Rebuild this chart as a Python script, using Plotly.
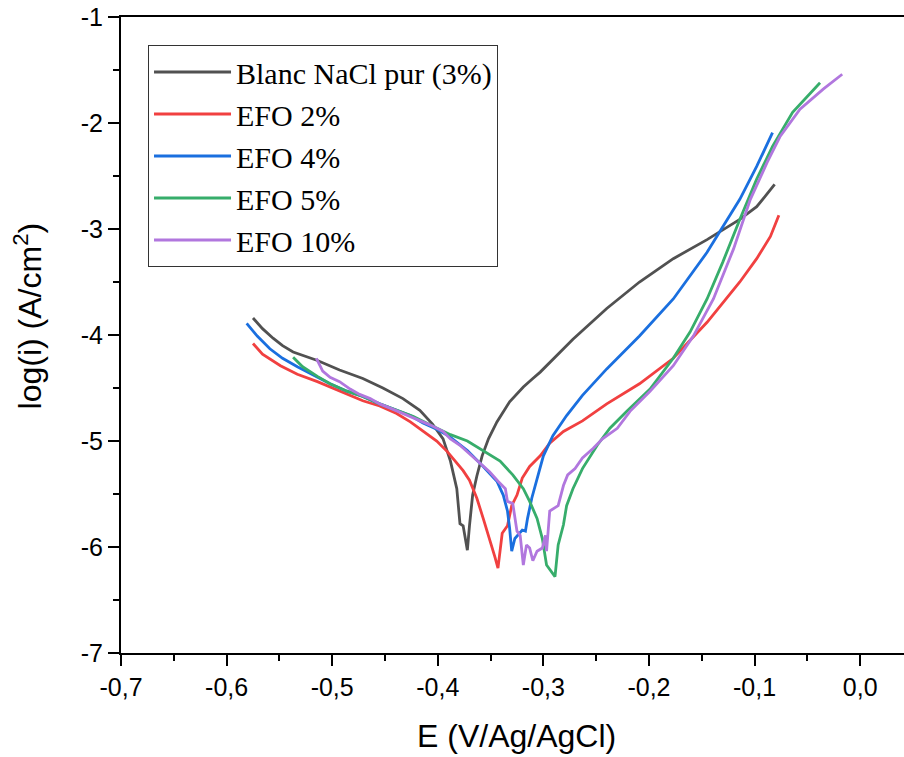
import plotly.graph_objects as go

# ---- data (E in V vs Ag/AgCl, log(i) in A/cm2) ----
E_blanc = [-0.575, -0.566, -0.556, -0.547, -0.537, -0.514, -0.493, -0.471, -0.452, -0.433, -0.417, -0.405,
           -0.395, -0.388, -0.382, -0.379, -0.376, -0.372, -0.370, -0.367, -0.363, -0.358, -0.352, -0.344,
           -0.332, -0.319, -0.310, -0.303, -0.272, -0.240, -0.209, -0.177, -0.145, -0.114, -0.098, -0.081]
logi_blanc = [-3.84, -3.94, -4.03, -4.10, -4.16, -4.24, -4.33, -4.41, -4.50, -4.60, -4.71, -4.84,
              -4.98, -5.19, -5.45, -5.78, -5.80, -6.03, -5.80, -5.51, -5.33, -5.14, -4.98, -4.82,
              -4.63, -4.49, -4.41, -4.35, -4.04, -3.75, -3.50, -3.28, -3.10, -2.91, -2.79, -2.58]

E_efo2 = [-0.575, -0.566, -0.549, -0.533, -0.514, -0.493, -0.471, -0.455, -0.439, -0.426, -0.414, -0.401,
          -0.391, -0.386, -0.376, -0.370, -0.363, -0.357, -0.351, -0.346, -0.343, -0.339, -0.334, -0.330,
          -0.325, -0.320, -0.313, -0.303, -0.294, -0.281, -0.263, -0.240, -0.209, -0.177, -0.145, -0.114,
          -0.098, -0.085, -0.077]
logi_efo2 = [-4.08, -4.18, -4.29, -4.37, -4.44, -4.53, -4.62, -4.67, -4.74, -4.82, -4.91, -5.00,
             -5.10, -5.16, -5.28, -5.37, -5.54, -5.73, -5.92, -6.09, -6.20, -5.87, -5.80, -5.61,
             -5.51, -5.35, -5.24, -5.14, -5.02, -4.91, -4.81, -4.65, -4.46, -4.22, -3.88, -3.50,
             -3.28, -3.07, -2.87]

E_efo4 = [-0.581, -0.571, -0.559, -0.547, -0.533, -0.518, -0.502, -0.486, -0.471, -0.455, -0.439, -0.426,
          -0.414, -0.401, -0.390, -0.372, -0.357, -0.344, -0.338, -0.334, -0.332, -0.330, -0.327, -0.324,
          -0.320, -0.317, -0.315, -0.311, -0.306, -0.300, -0.291, -0.278, -0.263, -0.240, -0.209, -0.177,
          -0.145, -0.126, -0.114, -0.098, -0.083]
logi_efo4 = [-3.89, -4.01, -4.13, -4.22, -4.30, -4.38, -4.46, -4.53, -4.58, -4.65, -4.71, -4.76,
             -4.83, -4.89, -4.95, -5.09, -5.24, -5.38, -5.51, -5.66, -5.82, -6.04, -5.92, -5.89,
             -5.84, -5.85, -5.73, -5.54, -5.35, -5.14, -4.95, -4.76, -4.57, -4.32, -4.01, -3.66,
             -3.22, -2.91, -2.72, -2.41, -2.09]

E_efo5 = [-0.537, -0.528, -0.514, -0.502, -0.486, -0.471, -0.455, -0.439, -0.423, -0.407, -0.388, -0.372,
          -0.357, -0.341, -0.329, -0.319, -0.313, -0.306, -0.301, -0.297, -0.289, -0.286, -0.281, -0.278,
          -0.272, -0.263, -0.249, -0.237, -0.221, -0.199, -0.177, -0.161, -0.145, -0.130, -0.114, -0.098,
          -0.083, -0.064, -0.038]
logi_efo5 = [-4.21, -4.30, -4.39, -4.46, -4.53, -4.58, -4.65, -4.71, -4.77, -4.85, -4.94, -5.00,
             -5.09, -5.19, -5.32, -5.45, -5.57, -5.73, -5.92, -6.17, -6.28, -5.98, -5.79, -5.61,
             -5.45, -5.26, -5.04, -4.88, -4.72, -4.51, -4.22, -3.97, -3.66, -3.31, -2.91, -2.53,
             -2.22, -1.90, -1.62]

E_efo10 = [-0.515, -0.509, -0.502, -0.493, -0.483, -0.474, -0.464, -0.455, -0.445, -0.433, -0.420, -0.407,
           -0.395, -0.388, -0.379, -0.370, -0.360, -0.351, -0.343, -0.336, -0.334, -0.329, -0.325, -0.322,
           -0.319, -0.316, -0.313, -0.310, -0.306, -0.301, -0.298, -0.297, -0.294, -0.289, -0.286, -0.281,
           -0.277, -0.270, -0.263, -0.253, -0.244, -0.230, -0.218, -0.199, -0.177, -0.158, -0.139, -0.120,
           -0.104, -0.088, -0.076, -0.057, -0.035, -0.017]
logi_efo10 = [-4.22, -4.34, -4.40, -4.44, -4.51, -4.56, -4.60, -4.65, -4.69, -4.74, -4.79, -4.85,
              -4.91, -4.98, -5.04, -5.12, -5.21, -5.29, -5.38, -5.45, -5.57, -5.59, -5.85, -5.89,
              -6.17, -5.98, -6.01, -6.13, -6.04, -6.01, -5.89, -6.04, -5.66, -5.63, -5.61, -5.42,
              -5.32, -5.26, -5.16, -5.07, -4.98, -4.88, -4.72, -4.53, -4.29, -4.01, -3.66, -3.19,
              -2.72, -2.37, -2.13, -1.87, -1.68, -1.54]

series_names = ["Blanc NaCl pur (3%)", "EFO 2%", "EFO 4%", "EFO 5%", "EFO 10%"]
series_E = [E_blanc, E_efo2, E_efo4, E_efo5, E_efo10]
series_logi = [logi_blanc, logi_efo2, logi_efo4, logi_efo5, logi_efo10]
series_colors = ["#515151", "#F14040", "#1A6FDF", "#37AD6B", "#B177DE"]

x_tickvals = [-0.7, -0.6, -0.5, -0.4, -0.3, -0.2, -0.1, 0.0]
x_ticktext = ["-0,7", "-0,6", "-0,5", "-0,4", "-0,3", "-0,2", "-0,1", "0,0"]
y_tickvals = [-7, -6, -5, -4, -3, -2, -1]
y_ticktext = ["-7", "-6", "-5", "-4", "-3", "-2", "-1"]

fig = go.Figure()
for name, xs, ys, col in zip(series_names, series_E, series_logi, series_colors):
    fig.add_trace(go.Scatter(x=xs, y=ys, mode="lines", name=name,
                             line=dict(color=col, width=2.8)))

axis_font = dict(family="Liberation Sans, Arial, sans-serif", size=25, color="black")

fig.update_layout(
    width=904, height=757, autosize=False,
    margin=dict(l=121, r=0, t=17, b=104, pad=0),
    paper_bgcolor="white", plot_bgcolor="white",
    showlegend=True,
    legend=dict(x=0.0345, y=0.956, xanchor="left", yanchor="top",
                bordercolor="#333333", borderwidth=1, bgcolor="white",
                font=dict(family="Liberation Serif, Times New Roman, serif", size=30, color="black"),
                itemwidth=77),
    xaxis=dict(range=[-0.7, 0.0415], showgrid=False, zeroline=False,
               showline=True, linecolor="black", linewidth=2, mirror=True,
               ticks="outside", ticklen=11, tickwidth=2, tickcolor="black",
               tickmode="array", tickvals=x_tickvals, ticktext=x_ticktext,
               tickfont=axis_font,
               minor=dict(tickmode="linear", tick0=-0.7, dtick=0.05, ticks="outside",
                          ticklen=6, tickwidth=2, tickcolor="black", showgrid=False)),
    yaxis=dict(range=[-7, -1], showgrid=False, zeroline=False,
               showline=True, linecolor="black", linewidth=2, mirror=False,
               ticks="outside", ticklen=11, tickwidth=2, tickcolor="black",
               tickmode="array", tickvals=y_tickvals, ticktext=y_ticktext,
               tickfont=axis_font, ticklabelstandoff=0,
               minor=dict(tickmode="linear", tick0=-7, dtick=0.5, ticks="outside",
                          ticklen=6, tickwidth=2, tickcolor="black", showgrid=False)),
    annotations=[
        dict(text="E (V/Ag/AgCl)", xref="paper", yref="paper", x=0.505, y=-0.1305,
             xanchor="center", yanchor="middle", showarrow=False,
             font=dict(family="Liberation Sans, Arial, sans-serif", size=32, color="black")),
        dict(text="log(i) (A/cm<sup>2</sup>)", xref="paper", yref="paper", x=-0.1194, y=0.530,
             xanchor="center", yanchor="middle", showarrow=False, textangle=-90,
             font=dict(family="Liberation Sans, Arial, sans-serif", size=32, color="black")),
    ],
)

fig.write_html("out.html")
